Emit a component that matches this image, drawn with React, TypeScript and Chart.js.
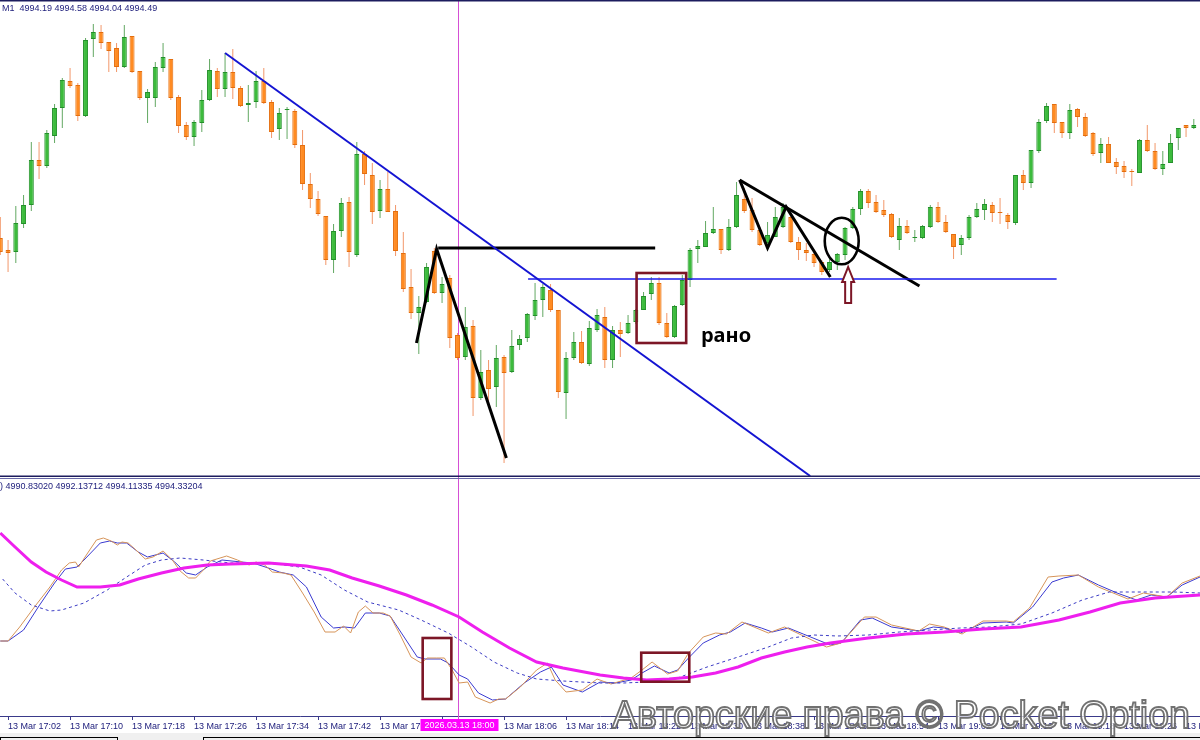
import React, { useEffect, useRef } from "react";
import { Chart, registerables } from "chart.js";
Chart.register(...registerables);

// ---------- DATA ----------
// candle i = 13 Mar 17:01 + i minutes (M1)
const opens = [
  4993.62, 4993.50, 4993.48, 4993.76, 4993.95, 4994.40, 4994.34, 4994.64, 4994.92, 4995.19,
  4995.15, 4994.84, 4995.61, 4995.68, 4995.58, 4995.52, 4995.33, 4995.64, 4995.29, 4995.02,
  4995.02, 4995.32, 4995.41, 4995.03, 4994.75, 4994.63, 4994.77, 4995.00, 4995.29, 4995.11,
  4995.28, 4995.12, 4994.95, 4994.98, 4995.19, 4994.98, 4994.71, 4994.90, 4994.89, 4994.55,
  4994.16, 4994.01, 4993.84, 4993.40, 4993.69, 4993.98, 4993.45, 4994.46, 4994.25, 4993.89,
  4994.11, 4993.89, 4993.47, 4993.13, 4992.87, 4992.98, 4993.49, 4993.07, 4993.22, 4992.65,
  4992.43, 4992.74, 4992.02, 4992.30, 4992.13, 4992.43, 4992.28, 4992.55, 4992.62, 4992.84,
  4993.00, 4993.10, 4992.90, 4992.07, 4992.42, 4992.58, 4992.36, 4992.70, 4992.83, 4992.40,
  4992.70, 4992.67, 4992.78, 4992.90, 4993.06, 4993.17, 4992.77, 4992.63, 4992.95, 4993.20,
  4993.51, 4993.53, 4993.67, 4993.71, 4993.50, 4993.73, 4994.01, 4993.90, 4993.70, 4993.57,
  4993.63, 4993.73, 4993.83, 4993.58, 4993.50, 4993.46, 4993.38, 4993.30, 4993.38, 4993.45,
  4993.72, 4993.91, 4994.09, 4993.98, 4993.90, 4993.86, 4993.60, 4993.74, 4993.62, 4993.62,
  4993.73, 4993.93, 4993.78, 4993.66, 4993.55, 4993.62, 4993.83, 4993.90, 4993.95, 4993.88,
  4993.85, 4993.77, 4994.25, 4994.17, 4994.49, 4994.79, 4994.96, 4994.78, 4994.67, 4994.91,
  4994.83, 4994.67, 4994.47, 4994.56, 4994.38, 4994.34, 4994.29, 4994.27, 4994.60, 4994.49,
  4994.31, 4994.37, 4994.62, 4994.75, 4994.72,
];
const highs = [
  4993.83, 4993.60, 4993.94, 4994.05, 4994.58, 4994.58, 4994.70, 4994.96, 4995.22, 4995.32,
  4995.17, 4995.62, 4995.76, 4995.75, 4995.58, 4995.57, 4995.75, 4995.64, 4995.29, 4995.11,
  4995.38, 4995.57, 4995.41, 4995.05, 4994.78, 4994.80, 4995.10, 4995.41, 4995.32, 4995.47,
  4995.51, 4995.14, 4995.15, 4995.29, 4995.32, 4995.00, 4994.92, 4994.93, 4994.91, 4994.70,
  4994.27, 4994.09, 4993.84, 4993.76, 4994.02, 4994.03, 4994.58, 4994.49, 4994.37, 4994.20,
  4994.28, 4993.95, 4993.68, 4993.31, 4993.04, 4993.37, 4993.52, 4993.23, 4993.25, 4992.67,
  4992.93, 4992.80, 4992.50, 4992.40, 4992.55, 4992.45, 4992.70, 4992.65, 4992.87, 4993.17,
  4993.16, 4993.16, 4992.90, 4992.48, 4992.68, 4992.69, 4992.79, 4992.91, 4992.93, 4992.74,
  4992.78, 4992.85, 4992.91, 4993.08, 4993.23, 4993.23, 4992.87, 4992.95, 4993.25, 4993.52,
  4993.60, 4993.79, 4993.93, 4993.71, 4993.81, 4994.18, 4994.12, 4994.02, 4993.73, 4993.78,
  4993.93, 4993.97, 4993.87, 4993.63, 4993.57, 4993.47, 4993.40, 4993.42, 4993.47, 4993.73,
  4993.93, 4994.11, 4994.11, 4994.05, 4994.00, 4993.87, 4993.82, 4993.80, 4993.70, 4993.75,
  4993.95, 4993.98, 4993.85, 4993.66, 4993.65, 4993.85, 4993.97, 4994.01, 4993.98, 4994.02,
  4993.87, 4994.25, 4994.30, 4994.50, 4994.81, 4994.97, 4994.96, 4994.78, 4994.96, 4994.92,
  4994.87, 4994.68, 4994.62, 4994.63, 4994.42, 4994.39, 4994.31, 4994.61, 4994.75, 4994.57,
  4994.49, 4994.66, 4994.72, 4994.75, 4994.81,
];
const lows = [
  4993.45, 4993.28, 4993.37, 4993.72, 4993.89, 4994.21, 4994.32, 4994.57, 4994.72, 4995.12,
  4994.79, 4994.83, 4995.43, 4995.51, 4995.28, 4995.28, 4995.32, 4995.27, 4995.00, 4994.77,
  4994.93, 4995.28, 4995.00, 4994.67, 4994.60, 4994.54, 4994.68, 4994.99, 4995.03, 4995.03,
  4995.01, 4994.93, 4994.78, 4994.92, 4994.96, 4994.62, 4994.60, 4994.61, 4994.52, 4994.10,
  4993.92, 4993.84, 4993.35, 4993.27, 4993.63, 4993.33, 4993.43, 4994.15, 4993.76, 4993.82,
  4993.88, 4993.44, 4993.08, 4992.81, 4992.46, 4992.97, 4993.06, 4992.97, 4992.52, 4992.40,
  4992.40, 4991.84, 4992.00, 4991.93, 4991.93, 4991.37, 4992.27, 4992.50, 4992.58, 4992.80,
  4992.83, 4992.88, 4992.02, 4991.81, 4992.40, 4992.36, 4992.34, 4992.68, 4992.32, 4992.32,
  4992.43, 4992.66, 4992.76, 4992.90, 4993.00, 4992.75, 4992.62, 4992.62, 4992.94, 4993.13,
  4993.37, 4993.53, 4993.66, 4993.46, 4993.49, 4993.72, 4993.87, 4993.68, 4993.54, 4993.56,
  4993.63, 4993.72, 4993.57, 4993.40, 4993.39, 4993.33, 4993.25, 4993.28, 4993.30, 4993.40,
  4993.71, 4993.85, 4993.92, 4993.87, 4993.83, 4993.62, 4993.50, 4993.66, 4993.58, 4993.61,
  4993.72, 4993.77, 4993.67, 4993.41, 4993.45, 4993.60, 4993.82, 4993.80, 4993.78, 4993.76,
  4993.71, 4993.75, 4994.10, 4994.12, 4994.47, 4994.77, 4994.67, 4994.62, 4994.61, 4994.73,
  4994.63, 4994.44, 4994.37, 4994.37, 4994.26, 4994.22, 4994.14, 4994.27, 4994.48, 4994.30,
  4994.25, 4994.37, 4994.50, 4994.63, 4994.71,
];
const closes = [
  4993.48, 4993.47, 4993.77, 4993.95, 4994.40, 4994.34, 4994.67, 4994.92, 4995.20, 4995.14,
  4994.84, 4995.60, 4995.68, 4995.57, 4995.49, 4995.33, 4995.63, 4995.28, 4995.02, 4995.08,
  4995.33, 4995.43, 4995.02, 4994.74, 4994.63, 4994.78, 4995.00, 4995.30, 4995.11, 4995.28,
  4995.12, 4994.94, 4994.97, 4995.19, 4994.97, 4994.68, 4994.87, 4994.91, 4994.55, 4994.16,
  4994.01, 4993.86, 4993.40, 4993.69, 4993.97, 4993.48, 4994.46, 4994.26, 4993.88, 4994.11,
  4993.88, 4993.49, 4993.11, 4992.87, 4992.93, 4993.33, 4993.07, 4993.16, 4992.62, 4992.42,
  4992.73, 4992.02, 4992.28, 4992.11, 4992.42, 4992.27, 4992.54, 4992.61, 4992.86, 4993.00,
  4993.13, 4992.90, 4992.08, 4992.42, 4992.58, 4992.37, 4992.72, 4992.85, 4992.40, 4992.70,
  4992.66, 4992.77, 4992.90, 4993.04, 4993.17, 4992.77, 4992.63, 4992.94, 4993.20, 4993.50,
  4993.54, 4993.67, 4993.71, 4993.50, 4993.73, 4994.05, 4993.89, 4993.70, 4993.55, 4993.65,
  4993.83, 4993.93, 4993.58, 4993.50, 4993.47, 4993.37, 4993.28, 4993.38, 4993.46, 4993.72,
  4993.91, 4994.09, 4993.97, 4993.88, 4993.85, 4993.63, 4993.74, 4993.67, 4993.63, 4993.74,
  4993.93, 4993.78, 4993.68, 4993.53, 4993.62, 4993.83, 4993.91, 4993.96, 4993.87, 4993.87,
  4993.78, 4994.25, 4994.17, 4994.50, 4994.78, 4994.94, 4994.77, 4994.67, 4994.90, 4994.83,
  4994.64, 4994.46, 4994.56, 4994.37, 4994.33, 4994.28, 4994.28, 4994.60, 4994.49, 4994.31,
  4994.36, 4994.57, 4994.72, 4994.72, 4994.75,
];

const tickIndex = [1, 9, 17, 25, 33, 41, 49, 57, 65, 73, 81, 89, 97, 105, 113, 121, 129, 137, 145, 153];
const tickLabels = [
  "13 Mar 17:02", "13 Mar 17:10", "13 Mar 17:18", "13 Mar 17:26", "13 Mar 17:34",
  "13 Mar 17:42", "13 Mar 17:50", "13 Mar 17:58", "13 Mar 18:06", "13 Mar 18:14",
  "13 Mar 18:22", "13 Mar 18:30", "13 Mar 18:38", "13 Mar 18:46", "13 Mar 18:54",
  "13 Mar 19:02", "13 Mar 19:10", "13 Mar 19:18", "13 Mar 19:26", "13 Mar 19:34",
];
const cursorIndex = 59; // 18:00
const cursorLabel = "2026.03.13 18:00";
const headerTop = "M1  4994.19 4994.58 4994.04 4994.49";
const headerBottom = ") 4990.83020 4992.13712 4994.11335 4994.33204";

// lower window series: [candle index, value]
const fastLine = [[0,4985.9],[1.0,4985.9],[2.5,4987.3],[4.4,4989.3],[6.4,4991.3],[7.9,4993.0],[8.9,4993.7],[9.7,4993.8],[10.1,4993.3],[11.1,4994.5],[12.4,4996.0],[13.3,4996.2],[14.3,4995.9],[15.1,4995.5],[15.7,4995.8],[16.5,4995.7],[17.5,4995.0],[18.7,4994.1],[19.7,4994.3],[21.0,4994.9],[22.2,4994.0],[23.2,4992.9],[24.3,4992.2],[25.2,4992.2],[26.2,4993.0],[27.1,4993.9],[29.2,4994.4],[30.6,4994.0],[32.1,4993.5],[33.0,4993.8],[34.1,4993.5],[35.1,4992.8],[36.5,4992.7],[37.5,4992.5],[39.0,4990.7],[40.5,4988.8],[41.9,4986.8],[43.2,4986.8],[44.3,4987.4],[45.2,4986.7],[46.2,4988.8],[47.1,4989.4],[48.1,4988.7],[49.4,4988.7],[50.3,4988.4],[51.6,4986.5],[53.0,4984.3],[54.3,4983.7],[55.1,4984.2],[56.3,4984.2],[57.3,4984.2],[58.3,4983.0],[59.2,4981.7],[60.3,4981.8],[61.3,4980.3],[63.2,4979.7],[64.3,4980.1],[65.2,4980.1],[67.1,4981.3],[69.2,4983.0],[70.6,4983.7],[71.6,4982.0],[73.0,4980.8],[75.1,4981.0],[77.0,4982.1],[78.8,4981.6],[81.4,4982.2],[82.8,4983.0],[84.1,4983.8],[86.1,4982.6],[87.4,4982.9],[88.8,4984.7],[90.7,4986.3],[92.3,4986.7],[93.7,4986.6],[95.7,4987.8],[99.1,4986.7],[101.2,4987.3],[106.6,4985.3],[108.5,4985.7],[111.5,4988.3],[113.0,4988.3],[115.0,4987.5],[118.5,4986.9],[119.9,4987.6],[121.8,4987.3],[124.1,4986.6],[126.8,4987.9],[129.8,4987.9],[130.7,4987.8],[132.8,4989.2],[135.2,4992.3],[136.6,4992.4],[139.1,4992.5],[141.7,4991.3],[145.5,4990.1],[147.5,4990.7],[150.5,4990.3],[152.5,4991.7],[154.8,4992.4]];
const signalLine = [[0,4985.9],[1.0,4985.9],[3.0,4987.0],[4.9,4989.3],[7.0,4991.7],[8.4,4993.1],[9.9,4993.3],[10.8,4994.0],[12.9,4995.7],[14.1,4995.9],[15.1,4995.7],[16.3,4995.7],[17.8,4994.8],[19.0,4994.3],[21.0,4994.7],[22.5,4993.8],[24.0,4992.7],[25.2,4992.5],[26.7,4993.3],[28.6,4994.0],[31.1,4993.8],[32.6,4993.7],[34.6,4993.2],[36.0,4992.8],[37.8,4992.5],[39.5,4991.3],[41.4,4988.3],[43.0,4987.2],[44.4,4987.3],[45.7,4987.2],[47.1,4988.7],[48.9,4988.7],[50.3,4988.4],[52.1,4986.3],[53.8,4984.3],[54.8,4984.1],[56.8,4984.1],[57.8,4983.7],[59.2,4982.5],[60.3,4982.1],[61.7,4980.7],[63.5,4980.0],[65.2,4980.1],[67.6,4981.7],[69.7,4982.8],[71.1,4983.3],[72.6,4981.5],[75.1,4980.8],[77.4,4981.8],[79.4,4981.7],[81.4,4982.0],[82.8,4982.7],[84.4,4983.4],[86.3,4982.7],[87.4,4983.0],[88.8,4984.2],[90.7,4985.7],[92.8,4986.5],[94.2,4986.8],[96.1,4987.7],[98.2,4987.2],[99.6,4986.8],[101.7,4987.2],[103.6,4986.6],[107.1,4985.5],[108.5,4985.7],[111.0,4988.0],[112.5,4988.2],[115.0,4987.3],[118.5,4986.9],[120.4,4987.3],[121.8,4987.2],[123.9,4986.7],[126.8,4987.7],[129.8,4987.8],[130.7,4987.7],[133.2,4989.3],[135.7,4991.8],[137.2,4992.2],[139.1,4992.5],[141.7,4991.5],[144.1,4990.7],[146.6,4990.0],[148.5,4990.5],[150.5,4990.3],[152.5,4991.5],[154.8,4992.3]];
const dashLine = [[0.3,4992.1],[1.9,4990.7],[4.0,4989.5],[6.4,4988.9],[7.9,4989.0],[10.8,4989.7],[13.8,4991.0],[16.3,4992.3],[18.7,4993.5],[20.8,4994.0],[23.2,4994.2],[26.2,4994.0],[29.7,4993.7],[34.6,4993.7],[38.6,4993.3],[41.4,4992.5],[44.4,4991.0],[47.4,4989.8],[51.4,4989.0],[54.3,4988.0],[57.8,4986.7],[60.8,4985.3],[63.7,4983.8],[66.7,4982.7],[69.2,4982.1],[72.6,4981.9],[77.4,4981.7],[80.4,4981.7],[83.4,4981.8],[87.4,4982.2],[91.2,4983.3],[95.2,4984.3],[99.1,4985.3],[102.1,4986.2],[105.0,4986.5],[108.0,4986.4],[112.0,4986.5],[116.0,4986.8],[119.9,4987.0],[123.9,4987.2],[127.7,4987.3],[131.7,4987.6],[135.7,4988.7],[139.6,4990.0],[143.1,4990.8],[147.5,4990.8],[151.5,4990.8],[154.8,4990.7]];
const slowLine = [[0,4996.7],[1.9,4995.3],[4.0,4993.8],[5.9,4992.8],[7.9,4992.0],[9.9,4991.3],[12.9,4991.3],[15.4,4991.5],[17.8,4992.1],[20.8,4992.7],[23.7,4993.2],[26.7,4993.5],[29.7,4993.6],[34.6,4993.7],[39.5,4993.4],[42.5,4993.0],[45.4,4992.2],[48.9,4991.4],[52.4,4990.5],[55.7,4989.5],[59.2,4988.3],[62.2,4986.8],[65.7,4985.2],[69.2,4983.8],[72.6,4983.2],[77.4,4982.5],[80.4,4982.2],[83.4,4982.0],[86.3,4982.1],[89.3,4982.3],[92.3,4982.7],[95.2,4983.3],[98.2,4984.2],[101.2,4984.8],[104.1,4985.3],[107.1,4985.7],[112.0,4986.2],[116.9,4986.6],[121.8,4986.8],[126.8,4987.1],[131.7,4987.3],[136.6,4988.0],[140.6,4988.8],[144.5,4989.7],[149.0,4990.2],[154.8,4990.5]];

// hand-drawn annotations (candle index, price)
const blueTrend = [[29.0, 4995.47], [104.5, 4991.24]];
const blueLevel = [[68.1, 4993.21], [136.3, 4993.21]];
const blackZigA = [[53.7, 4992.57], [56.3, 4993.51], [65.3, 4991.42]];
const blackLevel = [[56.5, 4993.52], [84.5, 4993.52]];
const blackZigB = [[95.4, 4994.20], [99.0, 4993.52], [101.4, 4993.93], [107.1, 4993.23]];
const blackTrend = [[95.4, 4994.20], [118.6, 4993.14]];
const boxTop = [82.1, 4993.27, 88.5, 4992.57];
const boxLow1 = [54.5, 4986.2, 58.2, 4980.1];
const boxLow2 = [82.7, 4984.73, 88.9, 4981.83];
const circle = [108.57, 4993.59, 2.19, 0.233];
const arrowUp = [109.4, 4993.33, 4992.97];
const noteText = "рано";
const notePos = [90.4, 4992.58];
const watermark = "Авторские права © Pocket Option";

// ---------- SCALES ----------
const X_MIN = -0.04, X_MAX = 154.8;
const Y_TOP_MAX = 4996.0, Y_TOP_MIN = 4991.24;
const Y_LOW_MAX = 5002.1, Y_LOW_MIN = 4978.4;

const GREEN = "#3cbb3c", GREEN_B = "#23902a", GREEN_W = "#62a862";
const ORANGE = "#ff8b22", ORANGE_B = "#e46e0e", ORANGE_W = "#f2976a";
const NAVY = "#22227e";
const DARKRED = "#7c1626";
const FONT = '"Liberation Sans", Arial, sans-serif';

const xy = (a: number[][]) => a.map(([x, y]) => ({ x, y }));
const seg = (data: number[][], color: string, width: number) => ({
  type: "line" as const,
  data: xy(data),
  borderColor: color,
  borderWidth: width,
  pointRadius: 0,
  fill: false,
  tension: 0,
  order: 0,
  clip: 0,
});

const panelA = {
  id: "panelA",
  beforeDatasetsDraw(chart: any) {
    const { ctx, chartArea, scales } = chart;
    const px = Math.round(scales.x.getPixelForValue(cursorIndex)) + 0.5;
    ctx.save();
    ctx.strokeStyle = "#d54fd5";
    ctx.lineWidth = 1;
    ctx.beginPath();
    ctx.moveTo(px, chartArea.top);
    ctx.lineTo(px, chartArea.bottom);
    ctx.stroke();
    ctx.restore();
  },
  afterDatasetsDraw(chart: any) {
    const { ctx, scales } = chart;
    const X = (v: number) => scales.x.getPixelForValue(v);
    const Y = (v: number) => scales.y.getPixelForValue(v);
    ctx.save();
    // box
    ctx.strokeStyle = DARKRED;
    ctx.lineWidth = 2.6;
    ctx.strokeRect(X(boxTop[0]), Y(boxTop[1]), X(boxTop[2]) - X(boxTop[0]), Y(boxTop[3]) - Y(boxTop[1]));
    // circle
    const cx = X(circle[0]), cy = Y(circle[1]);
    const rx = X(circle[0] + circle[2]) - cx, ry = Y(circle[1] - circle[3]) - cy;
    ctx.strokeStyle = "#000";
    ctx.lineWidth = 2.6;
    ctx.beginPath();
    ctx.ellipse(cx, cy, rx, ry, 0, 0, Math.PI * 2);
    ctx.stroke();
    // arrow
    const ax = X(arrowUp[0]), at = Y(arrowUp[1]), ab = Y(arrowUp[2]);
    ctx.beginPath();
    ctx.moveTo(ax, at);
    ctx.lineTo(ax + 6, at + 15);
    ctx.lineTo(ax + 3, at + 15);
    ctx.lineTo(ax + 3, ab);
    ctx.lineTo(ax - 3, ab);
    ctx.lineTo(ax - 3, at + 15);
    ctx.lineTo(ax - 6, at + 15);
    ctx.closePath();
    ctx.fillStyle = "#fff";
    ctx.fill();
    ctx.strokeStyle = DARKRED;
    ctx.lineWidth = 2;
    ctx.stroke();
    // note
    ctx.fillStyle = "#000";
    ctx.font = 'bold 20px "Noto Sans", sans-serif';
    ctx.textBaseline = "alphabetic";
    ctx.fillText(noteText, X(notePos[0]), Y(notePos[1]));
    ctx.restore();
  },
  afterDraw(chart: any) {
    const { ctx } = chart;
    ctx.save();
    ctx.fillStyle = "#1c1c5e";
    ctx.fillRect(0, 0, chart.width, 1.5);
    ctx.fillStyle = NAVY;
    ctx.font = `9px ${FONT}`;
    ctx.textBaseline = "middle";
    ctx.fillText(headerTop, 2, 8.5);
    ctx.restore();
  },
};

const panelB = {
  id: "panelB",
  beforeDatasetsDraw(chart: any) {
    const { ctx, chartArea, scales } = chart;
    const px = Math.round(scales.x.getPixelForValue(cursorIndex)) + 0.5;
    ctx.save();
    ctx.strokeStyle = "#d54fd5";
    ctx.lineWidth = 1;
    ctx.beginPath();
    ctx.moveTo(px, 0);
    ctx.lineTo(px, chartArea.bottom + 3);
    ctx.stroke();
    ctx.restore();
  },
  afterDatasetsDraw(chart: any) {
    const { ctx, scales } = chart;
    const X = (v: number) => scales.x.getPixelForValue(v);
    const Y = (v: number) => scales.y.getPixelForValue(v);
    ctx.save();
    ctx.strokeStyle = DARKRED;
    ctx.lineWidth = 2.6;
    for (const b of [boxLow1, boxLow2]) {
      ctx.strokeRect(X(b[0]), Y(b[1]), X(b[2]) - X(b[0]), Y(b[3]) - Y(b[1]));
    }
    ctx.restore();
  },
  afterDraw(chart: any) {
    const { ctx, chartArea, scales } = chart;
    const W = chart.width, H = chart.height;
    ctx.save();
    // separator double line
    ctx.fillStyle = "#1c1c5e";
    ctx.fillRect(0, 1.5, W, 1.5);
    ctx.fillStyle = "#6a6aa8";
    ctx.fillRect(0, 4, W, 1);
    // header
    ctx.fillStyle = NAVY;
    ctx.font = `9px ${FONT}`;
    ctx.textBaseline = "middle";
    ctx.fillText(headerBottom, 0, 13);
    // cursor time label
    const px = Math.round(scales.x.getPixelForValue(cursorIndex)) + 0.5;
    const base = chartArea.bottom;
    ctx.fillStyle = "#ff00ff";
    ctx.fillRect(px - 38, base + 3, 78, 12);
    ctx.fillStyle = "#fff";
    ctx.textAlign = "center";
    ctx.fillText(cursorLabel, px + 1, base + 9.5);
    ctx.textAlign = "left";
    // bottom strip
    ctx.fillStyle = "#f0f0f0";
    ctx.fillRect(0, H - 7, W, 7);
    ctx.strokeStyle = "#000";
    ctx.lineWidth = 1;
    ctx.strokeRect(0.5, H - 2.5, 117, 10);
    ctx.strokeRect(203.5, H - 2.5, W - 203, 10);
    // watermark
    ctx.font = `38px ${FONT}`;
    const tw = ctx.measureText(watermark).width;
    const sx = 578 / tw;
    ctx.translate(612, base + 12);
    ctx.scale(sx, 1);
    ctx.textBaseline = "alphabetic";
    ctx.fillStyle = "rgba(255,255,255,0.72)";
    ctx.fillText(watermark, 0, 0);
    ctx.strokeStyle = "rgba(105,105,105,0.95)";
    ctx.lineWidth = 1.8;
    ctx.strokeText(watermark, 0, 0);
    ctx.restore();
  },
};

export default function App() {
  const refA = useRef<HTMLCanvasElement>(null);
  const refB = useRef<HTMLCanvasElement>(null);

  useEffect(() => {
    const up = closes.map((c, i) => c >= opens[i]);
    const chartA = new Chart(refA.current as HTMLCanvasElement, {
      type: "bar",
      data: {
        datasets: [
          {
            type: "bar",
            data: lows.map((l, i) => ({ x: i, y: [l, highs[i]] })) as any,
            backgroundColor: up.map((u) => (u ? GREEN_W : ORANGE_W)),
            borderWidth: 0,
            barThickness: 1,
            grouped: false,
            inflateAmount: 0,
            order: 3,
          } as any,
          {
            type: "bar",
            data: opens.map((o, i) => ({ x: i, y: [o, closes[i]] })) as any,
            backgroundColor: up.map((u) => (u ? GREEN : ORANGE)),
            borderColor: up.map((u) => (u ? GREEN_B : ORANGE_B)),
            borderWidth: 1,
            borderSkipped: false,
            barThickness: 5,
            minBarLength: 1,
            grouped: false,
            inflateAmount: 0,
            order: 2,
          } as any,
          seg(blueTrend, "#1414d2", 2),
          seg(blueLevel, "#1a1aee", 1.6),
          seg(blackZigA, "#000", 3),
          seg(blackLevel, "#000", 3),
          seg(blackZigB, "#000", 3),
          seg(blackTrend, "#000", 3),
        ],
      },
      options: {
        responsive: false,
        animation: false,
        devicePixelRatio: 1,
        layout: { padding: 0 },
        plugins: { legend: { display: false }, tooltip: { enabled: false } },
        scales: {
          x: { type: "linear", min: X_MIN, max: X_MAX, offset: false, display: false, grid: { offset: false } },
          y: { type: "linear", min: Y_TOP_MIN, max: Y_TOP_MAX, display: false },
        },
      } as any,
      plugins: [panelA],
    });

    const line = (data: number[][], color: string, width: number, dash: number[] = []) => ({
      type: "line" as const,
      data: xy(data),
      borderColor: color,
      borderWidth: width,
      borderDash: dash,
      pointRadius: 0,
      fill: false,
      tension: 0,
    });

    const chartB = new Chart(refB.current as HTMLCanvasElement, {
      type: "line",
      data: {
        datasets: [
          line(slowLine, "#ee1fee", 3),
          line(dashLine, "#3b3bc4", 1, [3, 3]),
          line(fastLine, "#d69459", 1),
          line(signalLine, "#3a3ad0", 1),
        ] as any,
      },
      options: {
        responsive: false,
        animation: false,
        devicePixelRatio: 1,
        layout: { padding: { top: 5, left: 0, right: 0, bottom: 0 } },
        plugins: { legend: { display: false }, tooltip: { enabled: false } },
        scales: {
          x: {
            type: "linear",
            min: X_MIN,
            max: X_MAX,
            offset: false,
            afterBuildTicks: (s: any) => {
              s.ticks = tickIndex.map((v) => ({ value: v }));
            },
            afterFit: (s: any) => {
              s.height = 24;
              s.paddingLeft = 0;
              s.paddingRight = 0;
            },
            ticks: {
              autoSkip: false,
              maxRotation: 0,
              minRotation: 0,
              align: "start",
              padding: 1,
              color: NAVY,
              font: { family: FONT, size: 9 },
              callback: (_v: any, i: number) => tickLabels[i],
            },
            grid: { drawOnChartArea: false, drawTicks: true, tickLength: 4, color: "#3a3a8a", offset: false },
            border: { display: true, color: "#3a3a8a", width: 1 },
          },
          y: { type: "linear", min: Y_LOW_MIN, max: Y_LOW_MAX, display: false },
        },
      } as any,
      plugins: [panelB],
    });

    return () => {
      chartA.destroy();
      chartB.destroy();
    };
  }, []);

  return (
    <div style={{ position: "fixed", left: 0, top: 0, width: 1200, height: 740, background: "#fff", overflow: "hidden" }}>
      <canvas ref={refA} width={1200} height={476} style={{ position: "absolute", left: 0, top: 0 }} />
      <canvas ref={refB} width={1200} height={266} style={{ position: "absolute", left: 0, top: 474 }} />
    </div>
  );
}
